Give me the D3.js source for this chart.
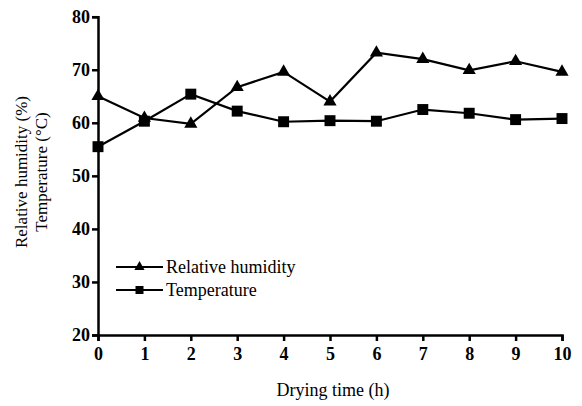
<!DOCTYPE html>
<html><head><meta charset="utf-8">
<script src="https://cdn.jsdelivr.net/npm/d3@7"></script>
<style>body{margin:0;background:#fff;}svg{display:block;} text{font-family:"Liberation Serif","Times New Roman",Times,"DejaVu Serif",serif;}</style>
</head><body>
<script>
const hours = [0,1,2,3,4,5,6,7,8,9,10];
const humidity = [65.0,60.9,59.8,66.7,69.6,64.0,73.2,72.0,69.9,71.6,69.6];
const temperature = [55.5,60.3,65.4,62.2,60.2,60.4,60.3,62.5,61.8,60.6,60.8];
const yTicks = [20,30,40,50,60,70,80];
const seriesNames = ["Relative humidity","Temperature"];

const W=582,H=406;
const svg=d3.select("body").append("svg").attr("width",W).attr("height",H);
const x=d3.scaleLinear().domain([0,10]).range([98,562]);
const y=d3.scaleLinear().domain([20,80]).range([335,16.7]);
const font='"Liberation Serif","Times New Roman",Times,"DejaVu Serif",serif';

const xa=svg.append("g").attr("transform","translate(0,335)")
  .call(d3.axisBottom(x).tickValues(hours).tickSize(6).tickPadding(6).tickFormat(d3.format("d")));
const ya=svg.append("g").attr("transform","translate(98,0)")
  .call(d3.axisLeft(y).tickValues(yTicks).tickSize(6).tickPadding(2).tickFormat(d3.format("d")));
[xa,ya].forEach(a=>{
  a.attr("font-family",null);
  a.select(".domain").attr("stroke","#000").attr("stroke-width",2.5);
  a.selectAll(".tick line").attr("stroke","#000").attr("stroke-width",2.5);
  a.selectAll(".tick text").attr("fill","#000").attr("font-family",font).attr("font-size",18).attr("font-weight","bold");
});

const line=d3.line().x((d,i)=>x(hours[i])).y(d=>y(d));
svg.append("path").datum(humidity).attr("d",line).attr("fill","none").attr("stroke","#000").attr("stroke-width",2.2);
svg.append("path").datum(temperature).attr("d",line).attr("fill","none").attr("stroke","#000").attr("stroke-width",2.2);

const tri=d3.symbol().type(d3.symbolTriangle).size(75);
const sq=d3.symbol().type(d3.symbolSquare).size(120);
svg.append("g").selectAll("path").data(humidity).join("path")
  .attr("d",tri).attr("transform",(d,i)=>`translate(${x(hours[i])},${y(d)})`).attr("fill","#000");
svg.append("g").selectAll("path").data(temperature).join("path")
  .attr("d",sq).attr("transform",(d,i)=>`translate(${x(hours[i])},${y(d)})`).attr("fill","#000");

// legend
const lg=svg.append("g");
const rows=[{n:seriesNames[0],s:d3.symbol().type(d3.symbolTriangle).size(45),yy:267},{n:seriesNames[1],s:d3.symbol().type(d3.symbolSquare).size(64),yy:290}];
rows.forEach(r=>{
  lg.append("line").attr("x1",116).attr("x2",163).attr("y1",r.yy).attr("y2",r.yy).attr("stroke","#000").attr("stroke-width",2.2);
  lg.append("path").attr("d",r.s).attr("transform",`translate(139.5,${r.yy})`).attr("fill","#000");
  lg.append("text").attr("x",166).attr("y",r.yy+5.5).text(r.n).attr("font-family",font).attr("font-size",18).attr("fill","#000");
});

svg.append("text").attr("x",333).attr("y",396).attr("text-anchor","middle").text("Drying time (h)")
  .attr("font-family",font).attr("font-size",18).attr("fill","#000");
const yt=svg.append("text").attr("transform","translate(0,172) rotate(-90)").attr("text-anchor","middle")
  .attr("font-family",font).attr("font-size",17).attr("fill","#000");
yt.append("tspan").attr("x",0).attr("y",27).text("Relative humidity (%)");
yt.append("tspan").attr("x",0).attr("y",47).text("Temperature (°C)");
</script>
</body></html>
